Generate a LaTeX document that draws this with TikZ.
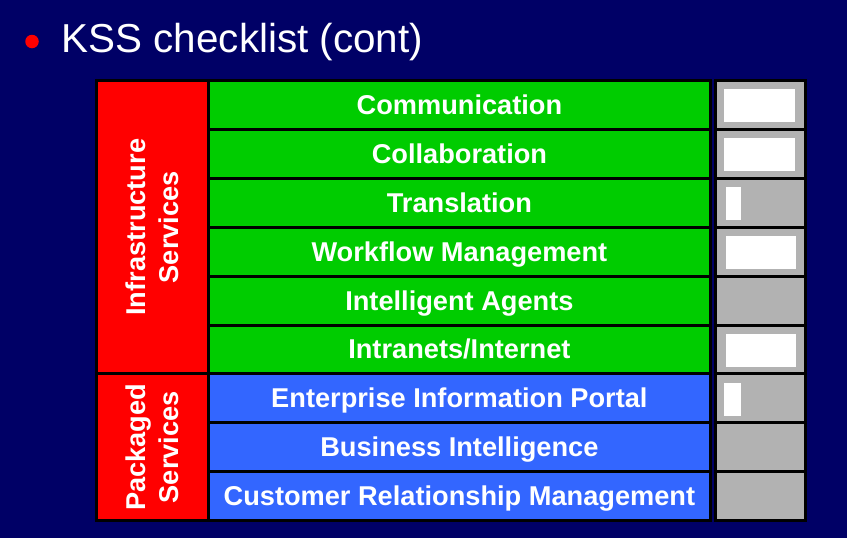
\documentclass[tikz,border=0pt]{standalone}
\usepackage{fontspec}
\setmainfont{Liberation Sans}
\definecolor{slidebg}{HTML}{000066}
\definecolor{cellgreen}{HTML}{00CC00}
\definecolor{cellblue}{HTML}{3366FF}
\definecolor{cellred}{HTML}{FF0000}
\definecolor{cellgrey}{HTML}{B2B2B2}
\begin{document}
\begin{tikzpicture}[x=1pt,y=-1pt,
  cell/.style={draw=black, line width=3pt, inner sep=0pt, anchor=center,
    text=white, font=\bfseries\fontsize{27.2}{33}\selectfont},
  rowcell/.style={cell, minimum width=502.2pt, minimum height=48.9pt,
    text height=20pt, text depth=1pt},
  infra/.style={rowcell, fill=cellgreen},
  pack/.style={rowcell, fill=cellblue},
  groupcell/.style={cell, fill=cellred, rotate=90, align=center,
    minimum height=112.3pt},
  checkcell/.style={cell, fill=cellgrey, minimum width=89.5pt, minimum height=48.9pt},
  fullbar/.style={fill=white, inner sep=0pt, minimum width=71pt, minimum height=33pt},
  shortbar/.style={fill=white, inner sep=0pt, minimum width=16pt, minimum height=33pt}]

% slide background
\fill[slidebg] (0,0) rectangle (847,538);
\useasboundingbox (0,0) rectangle (847,538);

% heading
\node[circle, fill=cellred, minimum size=13.5pt, inner sep=0pt] (bullet) at (32,41.5) {};
\node[anchor=base west, inner sep=0pt, text=white, font=\fontsize{40.4}{48}\selectfont]
  (title) at (61.5,52) {KSS checklist (cont)};

% service group labels
\node[groupcell, minimum width=293.4pt] (grpinfra) at (152.15,227.2) {Infrastructure\\Services};
\node[groupcell, minimum width=146.7pt] (grppack) at (152.15,447.25) {Packaged\\Services};

% service rows
\node[infra] (r1) at (459.4,104.95) {Communication};
\node[infra] (r2) at (459.4,153.85) {Collaboration};
\node[infra] (r3) at (459.4,202.75) {Translation};
\node[infra] (r4) at (459.4,251.65) {Workflow Management};
\node[infra] (r5) at (459.4,300.55) {Intelligent Agents};
\node[infra] (r6) at (459.4,349.45) {Intranets/Internet};
\node[pack] (r7) at (459.4,398.35) {Enterprise Information Portal};
\node[pack] (r8) at (459.4,447.25) {Business Intelligence};
\node[pack] (r9) at (459.4,496.15) {Customer Relationship Management};

% checklist column
\node[checkcell] (c1) at (760.25,104.95) {};
\node[checkcell] (c2) at (760.25,153.85) {};
\node[checkcell] (c3) at (760.25,202.75) {};
\node[checkcell] (c4) at (760.25,251.65) {};
\node[checkcell] (c5) at (760.25,300.55) {};
\node[checkcell] (c6) at (760.25,349.45) {};
\node[checkcell] (c7) at (760.25,398.35) {};
\node[checkcell] (c8) at (760.25,447.25) {};
\node[checkcell] (c9) at (760.25,496.15) {};

% progress bars
\node[fullbar] (b1) at (759.5,105.3) {};
\node[fullbar] (b2) at (759.5,154.3) {};
\node[shortbar, minimum width=15pt] (b3) at (733.5,203.6) {};
\node[fullbar, minimum width=70pt] (b4) at (761,252.5) {};
\node[fullbar, minimum width=70pt] (b6) at (761,350.4) {};
\node[shortbar, minimum width=17pt] (b7) at (732.5,399.2) {};
\end{tikzpicture}
\end{document}
